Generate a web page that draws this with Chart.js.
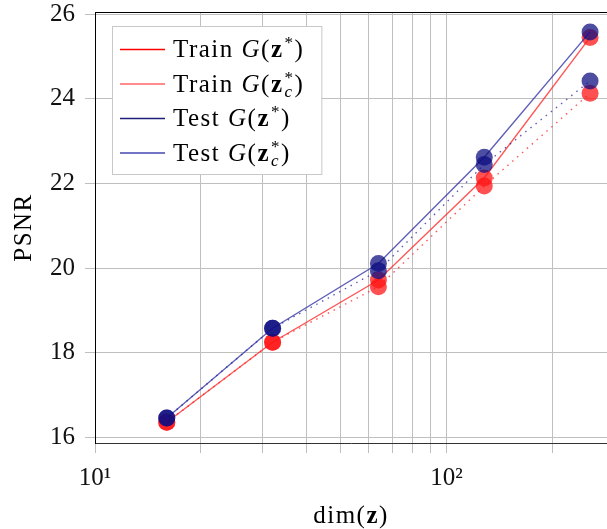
<!DOCTYPE html>
<html><head><meta charset="utf-8">
<script src="https://cdn.jsdelivr.net/npm/chart.js@4.4.0/dist/chart.umd.min.js"></script>
<style>html,body{margin:0;padding:0;background:#fff}#wrap{width:607px;height:529px}</style>
</head><body><div id="wrap"><canvas id="c" width="607" height="529"></canvas></div>
<script>
// ---- data ----
const dims = [16, 32, 64, 128, 256];
const trainZ  = [16.36, 18.25, 19.72, 22.13, 25.45];
const trainZc = [16.36, 18.25, 19.56, 21.94, 24.13];
const testZ   = [16.46, 18.58, 20.11, 22.62, 25.58];
const testZc  = [16.46, 18.58, 19.94, 22.45, 24.42];
const xTicks = [10, 20, 30, 40, 50, 60, 70, 80, 90, 100, 200];
const yTicks = [16, 18, 20, 22, 24, 26];
const xTickLabels = {10: '10\u00B9', 100: '10\u00B2'};
const seriesNames = ['Train G(z*)', 'Train G(z_c*)', 'Test G(z*)', 'Test G(z_c*)'];

const SERIF = "'Liberation Serif', 'DejaVu Serif', serif";
const pts = v => dims.map((d, i) => ({x: d, y: v[i]}));

const RED_M = 'rgba(255,20,20,0.74)';
const BLUE_M = 'rgba(15,15,130,0.74)';

function ds(label, vals, line, dash, order) {
  return {
    label, data: pts(vals), borderColor: line, borderWidth: 1.4,
    borderDash: dash, backgroundColor: line,
    pointRadius: 8.5, pointHoverRadius: 8.5, pointBorderWidth: 0,
    pointBackgroundColor: label.startsWith('Train') ? RED_M : BLUE_M,
    pointBorderColor: 'rgba(0,0,0,0)', tension: 0, fill: false, order
  };
}

const legendStyle = [
  {prefix: 'Train ', sub: false, color: '#ff0000'},
  {prefix: 'Train ', sub: true, color: '#ff6464'},
  {prefix: 'Test ', sub: false, color: '#1e1e78'},
  {prefix: 'Test ', sub: true, color: '#4646b0'}
];
const LS = '1.5px';

function drawRich(ctx, x, y, st, measureOnly) {
  const F = 25, S = 17;
  ctx.letterSpacing = LS;
  const runs = [
    {t: st.prefix, f: `${F}px ${SERIF}`},
    {t: 'G', f: `italic ${F}px ${SERIF}`},
    {t: '(', f: `${F}px ${SERIF}`},
    {t: 'z', f: `bold ${F}px ${SERIF}`}
  ];
  let cx = x;
  for (const r of runs) {
    ctx.font = r.f;
    if (!measureOnly) ctx.fillText(r.t, cx, y);
    cx += ctx.measureText(r.t).width;
  }
  ctx.font = `${S}px ${SERIF}`;
  const wStar = ctx.measureText('*').width;
  if (!measureOnly) ctx.fillText('*', cx + 1, y - 9);
  let w = wStar + 1;
  if (st.sub) {
    ctx.font = `italic ${S}px ${SERIF}`;
    const wc = ctx.measureText('c').width;
    if (!measureOnly) ctx.fillText('c', cx + 1, y + 5);
    w = Math.max(w, wc + 2);
  }
  cx += w;
  ctx.font = `${F}px ${SERIF}`;
  if (!measureOnly) ctx.fillText(')', cx, y);
  cx += ctx.measureText(')').width;
  ctx.letterSpacing = '0px';
  return cx - x;
}

const richPlugin = {
  id: 'rich',
  afterDraw(chart) {
    const ctx = chart.ctx, ca = chart.chartArea;
    ctx.save();
    // top frame
    ctx.strokeStyle = '#000'; ctx.lineWidth = 1;
    ctx.beginPath(); ctx.moveTo(ca.left, ca.top + 0.5); ctx.lineTo(ca.right, ca.top + 0.5); ctx.stroke();

    // legend
    const bx = ca.left + 17, by = ca.top + 14, rowH = 34.5;
    ctx.fillStyle = '#000'; ctx.textBaseline = 'alphabetic'; ctx.textAlign = 'left';
    let maxW = 0;
    legendStyle.forEach(st => { maxW = Math.max(maxW, drawRich(ctx, 0, 0, st, true)); });
    const textX = bx + 61;
    const bw = textX - bx + maxW + 17, bh = rowH * 4 + 10;
    ctx.fillStyle = '#fff';
    ctx.fillRect(bx, by, bw, bh);
    ctx.strokeStyle = '#c8c8c8'; ctx.lineWidth = 1;
    ctx.strokeRect(bx + 0.5, by + 0.5, bw, bh);
    legendStyle.forEach((st, i) => {
      const cy = by + 23 + i * rowH;
      ctx.strokeStyle = st.color; ctx.lineWidth = 1.3;
      ctx.beginPath(); ctx.moveTo(bx + 8, cy + 0.5); ctx.lineTo(bx + 53, cy + 0.5); ctx.stroke();
      ctx.fillStyle = '#000';
      drawRich(ctx, textX, cy + 8, st, false);
    });

    // x title: dim(z)
    const F = 25;
    ctx.fillStyle = '#000';
    ctx.letterSpacing = LS;
    const parts = [{t: 'dim(', f: `${F}px ${SERIF}`}, {t: 'z', f: `bold ${F}px ${SERIF}`}, {t: ')', f: `${F}px ${SERIF}`}];
    let tw = 0;
    parts.forEach(p => { ctx.font = p.f; tw += ctx.measureText(p.t).width; });
    let tx = (ca.left + ca.right) / 2 - tw / 2;
    parts.forEach(p => { ctx.font = p.f; ctx.fillText(p.t, tx, 523); tx += ctx.measureText(p.t).width; });

    // y title
    ctx.translate(24, (ca.top + ca.bottom) / 2); ctx.rotate(-Math.PI / 2);
    ctx.font = `${F}px ${SERIF}`; ctx.textAlign = 'center'; ctx.textBaseline = 'middle';
    ctx.fillText('PSNR', 0, 0);
    ctx.restore();
  }
};

new Chart(document.getElementById('c'), {
  type: 'line',
  data: {
    datasets: [
      ds(seriesNames[0], trainZ, 'rgba(255,30,30,0.75)', [], 3),
      ds(seriesNames[1], trainZc, 'rgba(255,30,30,0.75)', [1.5, 5], 2),
      ds(seriesNames[2], testZ, 'rgba(40,40,160,0.75)', [], 1),
      ds(seriesNames[3], testZc, 'rgba(40,40,160,0.75)', [1.5, 5], 0)
    ]
  },
  options: {
    responsive: false, animation: false, devicePixelRatio: 1,
    layout: {autoPadding: false, padding: {top: 12, left: 0, right: 0, bottom: 0}},
    plugins: {legend: {display: false}, tooltip: {enabled: false}},
    scales: {
      x: {
        type: 'logarithmic', min: 10, max: 286,
        afterBuildTicks: s => { s.ticks = xTicks.map(v => ({value: v})); },
        afterFit: s => { s.height = 86; s.paddingLeft = 0; s.paddingRight = 0; },
        ticks: {
          autoSkip: false, maxRotation: 0, padding: 10, color: '#111',
          font: {family: SERIF, size: 25},
          callback: (v) => xTickLabels[v] || ''
        },
        grid: {color: '#bfbfbf', lineWidth: 1, tickLength: 10, drawTicks: true},
        border: {color: '#333', width: 1}
      },
      y: {
        type: 'linear', min: 15.87, max: 26.05,
        afterBuildTicks: s => { s.ticks = yTicks.map(v => ({value: v})); },
        afterFit: s => { s.width = 95; s.paddingTop = 0; s.paddingBottom = 0; },
        ticks: {padding: 10, color: '#111', font: {family: SERIF, size: 25}, callback: v => String(v)},
        grid: {color: '#bfbfbf', lineWidth: 1, tickLength: 10, drawTicks: true},
        border: {color: '#000', width: 1}
      }
    }
  },
  plugins: [richPlugin]
});
</script></body></html>
